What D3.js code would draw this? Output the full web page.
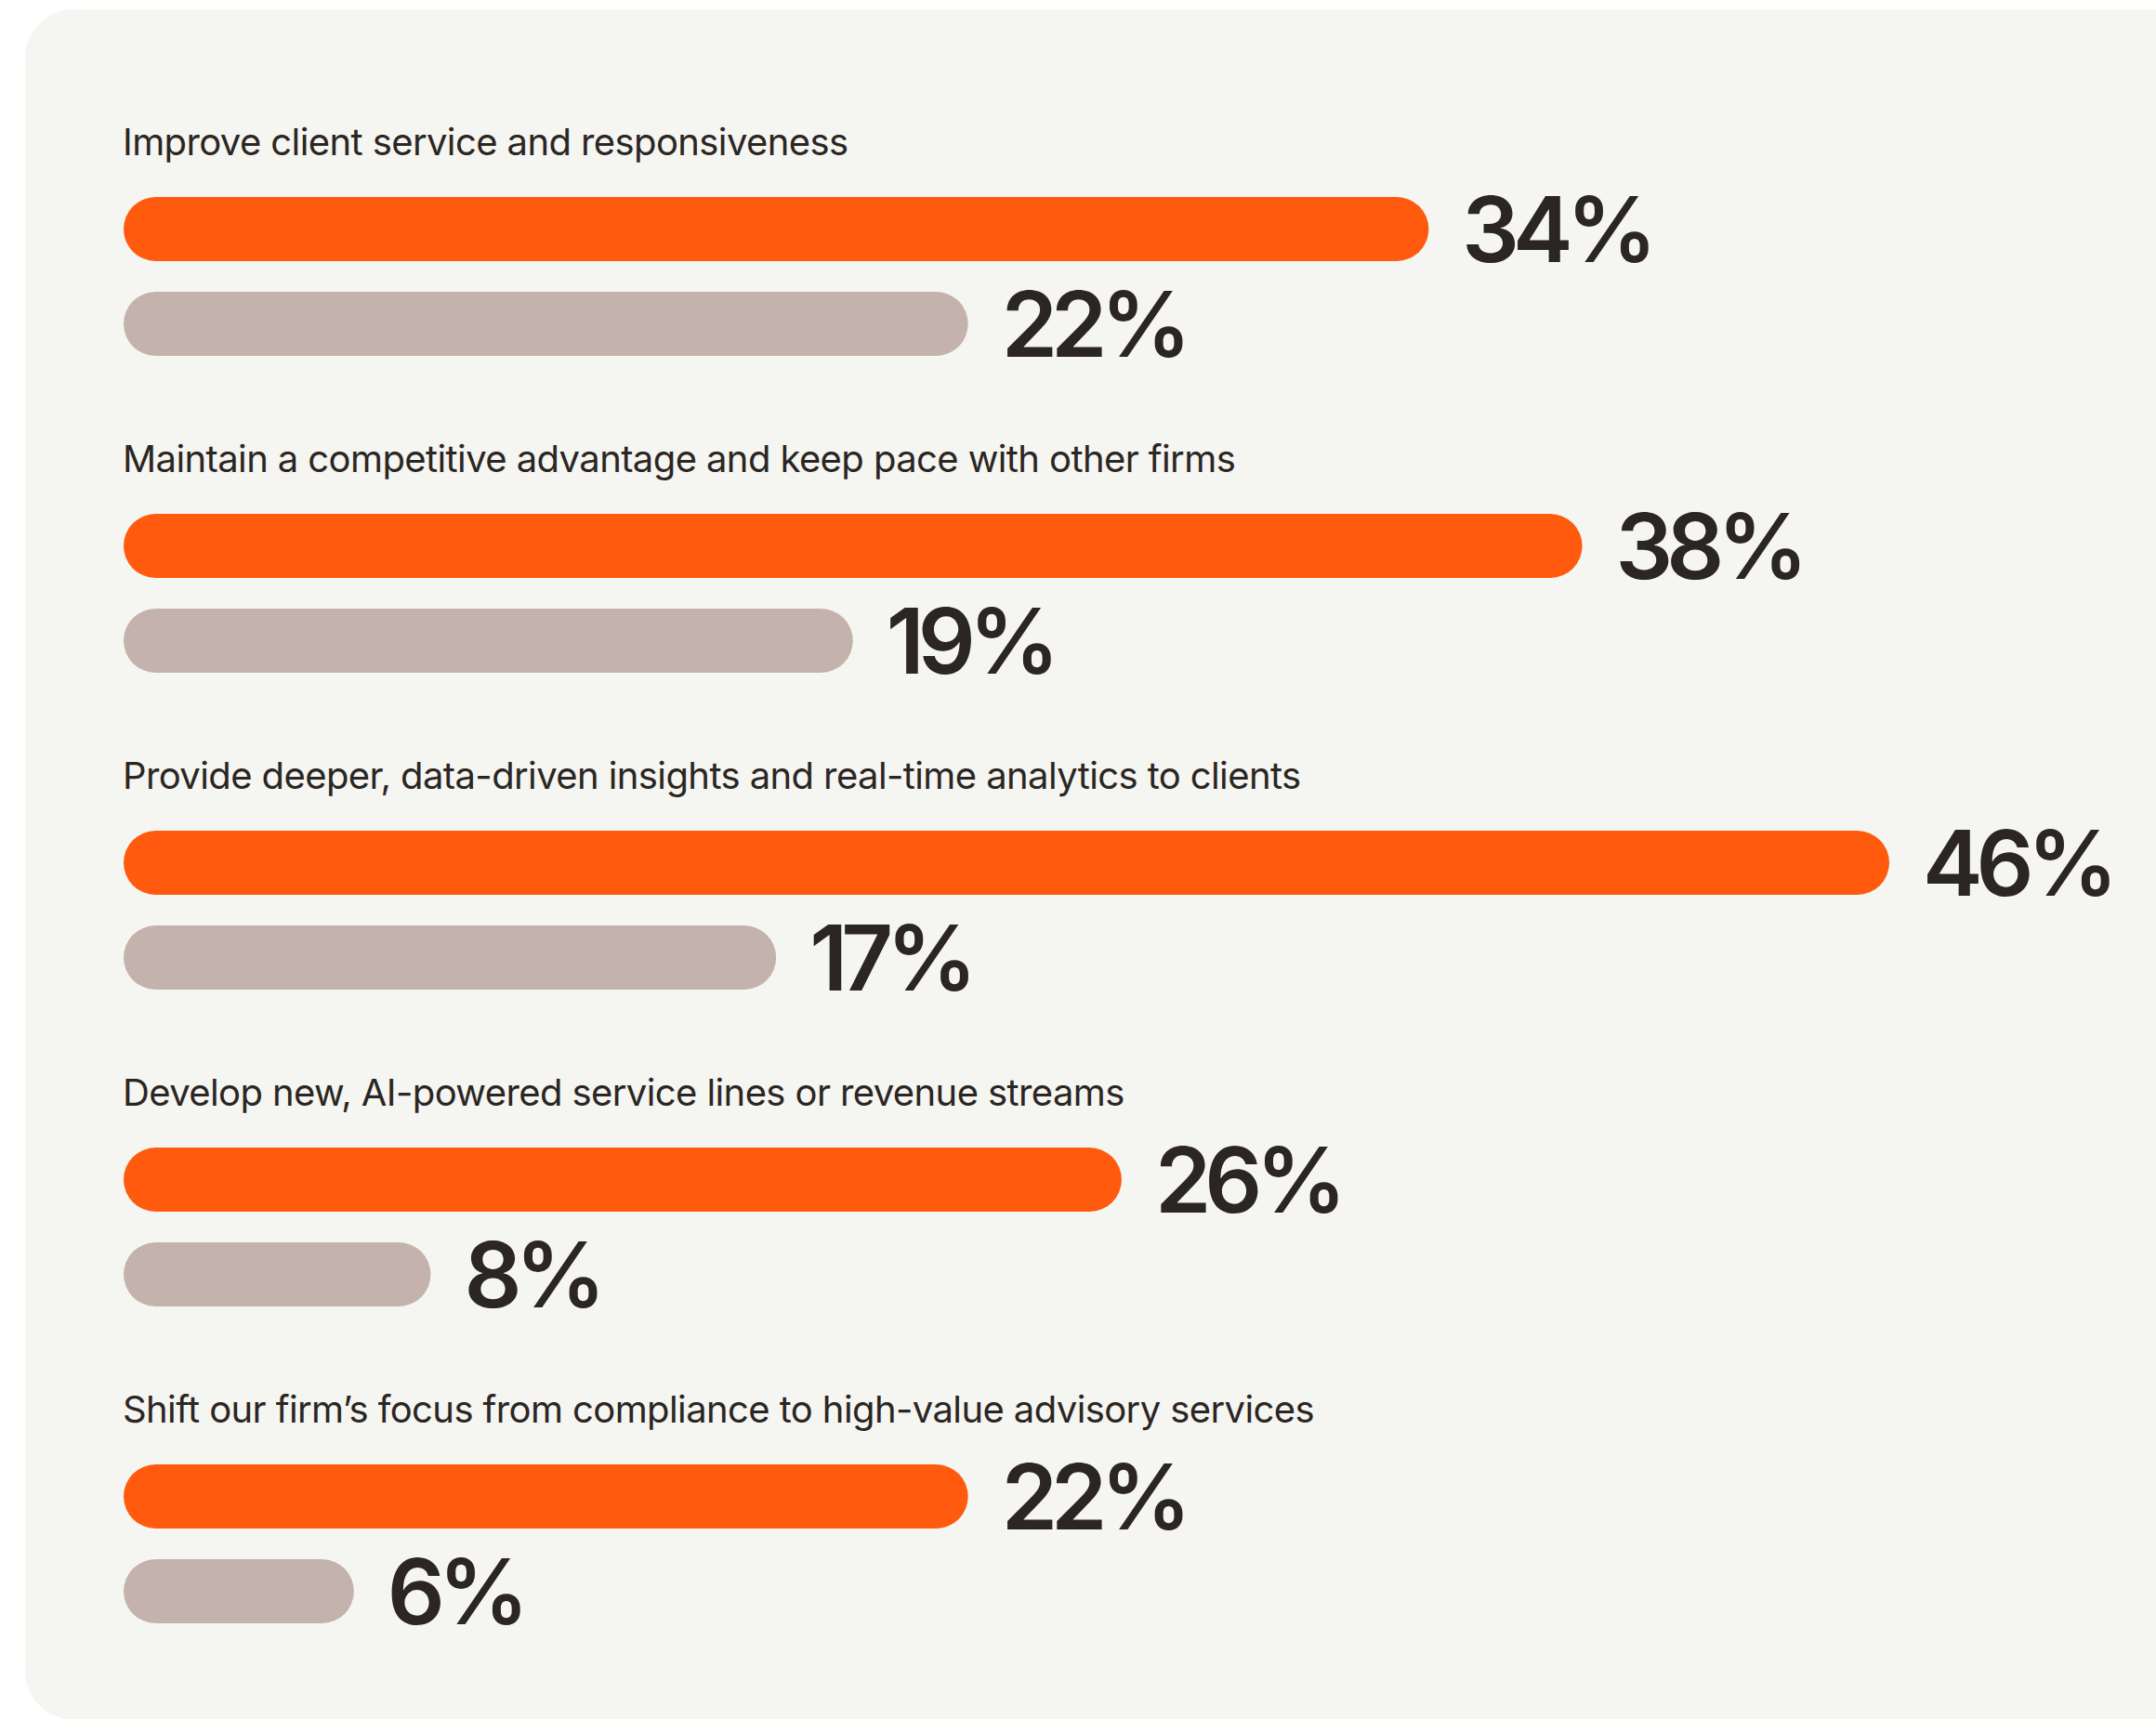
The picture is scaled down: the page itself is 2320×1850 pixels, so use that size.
<!DOCTYPE html>
<html>
<head>
<meta charset="utf-8">
<script src="https://cdn.jsdelivr.net/npm/d3@7"></script>
<style>
  html, body { margin: 0; padding: 0; background: #ffffff; }
  svg { display: block; }
</style>
</head>
<body>
<svg id="chart" width="2320" height="1850"></svg>
<script>
// Survey goals, two series per goal
const categories = [
  "Improve client service and responsiveness",
  "Maintain a competitive advantage and keep pace with other firms",
  "Provide deeper, data-driven insights and real-time analytics to clients",
  "Develop new, AI-powered service lines or revenue streams",
  "Shift our firm\u2019s focus from compliance to high-value advisory services"
];
const primaryValues = [34, 38, 46, 26, 22];
const secondaryValues = [22, 19, 17, 8, 6];
const seriesKeys = ["primary", "secondary"];
const seriesColors = ["#FF5A0E", "#C4B2AC"];

const W = 2320, H = 1850;
const svg = d3.select("#chart");

// card background
svg.append("rect")
  .attr("x", 27).attr("y", 10)
  .attr("width", W - 27 + 60).attr("height", H - 10 + 0.5)
  .attr("rx", 52).attr("ry", 52)
  .attr("fill", "#F5F5F1");

const left = 133;
const barH = 69;

const x = d3.scaleLinear().domain([0, 46]).range([0, 1900]);
const y = d3.scaleBand().domain(categories).range([112, 112 + 341 * categories.length]);
const sub = d3.scalePoint().domain(seriesKeys).range([100, 202]);
const color = d3.scaleOrdinal().domain(seriesKeys).range(seriesColors);

const rows = categories.map((c, i) => ({
  category: c,
  bars: [
    { key: "primary", value: primaryValues[i] },
    { key: "secondary", value: secondaryValues[i] }
  ]
}));

const g = svg.selectAll("g.row").data(rows).join("g")
  .attr("class", "row")
  .attr("transform", d => `translate(0,${y(d.category)})`);

g.append("text")
  .attr("x", left - 1)
  .attr("y", 55)
  .attr("fill", "#2B2623")
  .style("font-family", "Inter, 'Noto Sans', sans-serif")
  .style("font-size", "40px")
  .style("letter-spacing", "-0.6px")
  .text(d => d.category);

const bar = g.selectAll("g.bar").data(d => d.bars).join("g").attr("class", "bar");

bar.append("rect")
  .attr("x", left)
  .attr("y", d => sub(d.key))
  .attr("width", d => x(d.value))
  .attr("height", barH)
  .attr("rx", barH / 2).attr("ry", barH / 2)
  .attr("fill", d => color(d.key));

bar.append("text")
  .attr("x", d => left + x(d.value) + 36)
  .attr("y", d => sub(d.key) + barH + 1)
  .attr("fill", "#2B2623")
  .style("font-family", "Inter, 'Noto Sans', sans-serif")
  .style("font-size", "97px")
  .style("font-weight", 600)
  .style("letter-spacing", "-7px")
  .text(d => d.value + "%");
</script>
</body>
</html>
